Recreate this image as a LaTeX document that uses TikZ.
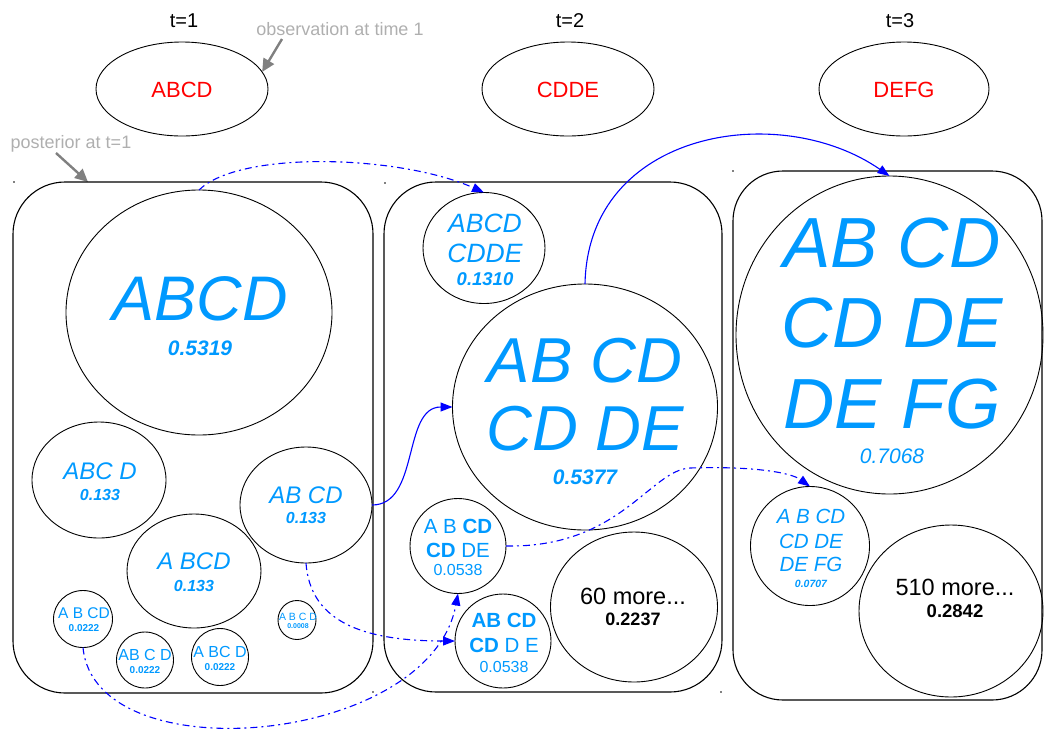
\documentclass[tikz,border=0pt]{standalone}
\usepackage{fontspec}
\setmainfont{Liberation Sans}
\usetikzlibrary{shapes.geometric,arrows.meta}
\definecolor{txtblue}{RGB}{0,153,255}
\definecolor{linkblue}{RGB}{0,0,255}
\definecolor{obsred}{RGB}{255,0,0}
\definecolor{notegray}{RGB}{175,175,175}
\definecolor{arrowgray}{RGB}{128,128,128}
\newcommand\fz[1]{\fontsize{#1pt}{#1pt}\selectfont}
\begin{document}
\begin{tikzpicture}[x=1pt,y=-1pt,
  bub/.style={draw=black, line width=0.9pt, ellipse, inner sep=0pt, outer sep=0pt},
  pbox/.style={draw=black, line width=1.1pt, rectangle, rounded corners=52pt, inner sep=0pt, outer sep=0pt},
  lbl/.style={anchor=base, inner sep=0pt, outer sep=0pt, text=txtblue},
  blk/.style={anchor=base, inner sep=0pt, outer sep=0pt, text=black},
  note/.style={anchor=base, inner sep=0pt, text=notegray, font=\fz{18}},
  grayarrow/.style={draw=arrowgray, line width=2.4pt, -{Triangle[length=13pt,width=12pt]}},
  linksolid/.style={draw=linkblue, line width=1.1pt, -{Triangle[length=12pt,width=9pt]}},
  linkdash/.style={linksolid, dash pattern=on 7pt off 4pt on 2pt off 4pt}
]
\useasboundingbox (0,0) rectangle (1044,729);

% time labels and observations
\node[blk, font=\fz{20}] (tl1) at (184,27) {t=1};
\node[blk, font=\fz{20}] (tl2) at (570,27) {t=2};
\node[blk, font=\fz{20}] (tl3) at (900,27) {t=3};
\node[bub, minimum width=172pt, minimum height=94pt] (e1) at (182,89) {};
\node[bub, minimum width=172pt, minimum height=94pt] (e2) at (568,89) {};
\node[bub, minimum width=170pt, minimum height=94pt] (e3) at (904,89) {};
\node[anchor=base, inner sep=0pt, text=obsred, font=\fz{22}] (o1) at (182,97) {ABCD};
\node[anchor=base, inner sep=0pt, text=obsred, font=\fz{22}] (o2) at (568,97) {CDDE};
\node[anchor=base, inner sep=0pt, text=obsred, font=\fz{22}] (o3) at (904,97) {DEFG};

% notes
\node[note] (nobs) at (340,35) {observation at time 1};
\node[note] (npost) at (71,148) {posterior at t=1};
\coordinate (nobsA) at (282,39);
\coordinate (npostA) at (56,153);
\coordinate (npostB) at (88,182);
\draw[grayarrow] (nobsA) -- (e1.12);
\draw[grayarrow] (npostA) -- (npostB);

% boxes
\node[pbox, minimum width=360pt, minimum height=511pt] (box1) at (193,437.5) {};
\node[pbox, minimum width=338pt, minimum height=510pt] (box2) at (553,437) {};
\node[pbox, minimum width=309pt, minimum height=529pt, rounded corners=50pt] (box3) at (887.5,435.5) {};

% tiny corner dots
\fill (14,182) circle (0.8pt);
\fill (373,692) circle (0.8pt);
\fill (385,183) circle (0.8pt);
\fill (721,692) circle (0.8pt);
\fill (733,171) circle (0.8pt);

% box 1 bubbles
\node[bub, minimum width=266pt, minimum height=245pt] (c1) at (199,312.5) {};
\node[bub, minimum width=134pt, minimum height=116pt] (c2) at (99,480) {};
\node[bub, minimum width=132pt, minimum height=116pt] (c3) at (306,505) {};
\node[bub, minimum width=134pt, minimum height=114pt] (c4) at (194,571) {};
\node[bub, minimum width=59pt, minimum height=57pt] (c5) at (83,619) {};
\node[bub, minimum width=57pt, minimum height=56pt] (c6) at (145,660) {};
\node[bub, minimum width=57pt, minimum height=57pt] (c7) at (220,657) {};
\node[bub, minimum width=38pt, minimum height=39pt] (c8) at (297,620) {};

\node[lbl, font=\fz{63}\itshape] (c1a) at (200,320) {ABCD};
\node[lbl, font=\fz{21}\bfseries\itshape] (c1b) at (200,355) {0.5319};
\node[lbl, font=\fz{24}\itshape] (c2a) at (100,479) {ABC D};
\node[lbl, font=\fz{16}\bfseries\itshape] (c2b) at (100,500) {0.133};
\node[lbl, font=\fz{24}\itshape] (c3a) at (306,503) {AB CD};
\node[lbl, font=\fz{16}\bfseries\itshape] (c3b) at (306,523) {0.133};
\node[lbl, font=\fz{24}\itshape] (c4a) at (194,569) {A BCD};
\node[lbl, font=\fz{16}\bfseries\itshape] (c4b) at (194,591) {0.133};
\node[lbl, font=\fz{15.5}] (c5a) at (84,618) {A B CD};
\node[lbl, font=\fz{10}\bfseries] (c5b) at (84,631) {0.0222};
\node[lbl, font=\fz{16}] (c6a) at (145,660) {AB C D};
\node[lbl, font=\fz{10}\bfseries] (c6b) at (145,673) {0.0222};
\node[lbl, font=\fz{16}] (c7a) at (220,657) {A BC D};
\node[lbl, font=\fz{10}\bfseries] (c7b) at (220,670) {0.0222};
\node[lbl, font=\fz{10.5}] (c8a) at (298,620) {A B C D};
\node[lbl, font=\fz{7}\bfseries] (c8b) at (298,628) {0.0008};

% box 2 bubbles
\node[bub, minimum width=122pt, minimum height=111pt] (d1) at (484,248) {};
\node[bub, minimum width=265pt, minimum height=246pt] (d2) at (585,407) {};
\node[bub, minimum width=96pt, minimum height=95pt] (d3) at (458,546) {};
\node[bub, minimum width=96pt, minimum height=94pt] (d4) at (503,641) {};
\node[bub, minimum width=167pt, minimum height=150pt] (d5) at (634,607) {};

\node[lbl, font=\fz{26.5}\itshape] (d1a) at (485,232) {ABCD};
\node[lbl, font=\fz{26.5}\itshape] (d1b) at (485,262) {CDDE};
\node[lbl, font=\fz{18.5}\bfseries\itshape] (d1c) at (485,285) {0.1310};
\node[lbl, font=\fz{63.5}\itshape] (d2a) at (585,382) {AB CD};
\node[lbl, font=\fz{63.5}\itshape] (d2b) at (585,450) {CD DE};
\node[lbl, font=\fz{21}\bfseries\itshape] (d2c) at (585,484) {0.5377};
\node[lbl, font=\fz{20.5}] (d3a) at (458,533) {A B \textbf{CD}};
\node[lbl, font=\fz{20.5}] (d3b) at (458,557) {\textbf{CD} DE};
\node[lbl, font=\fz{16}] (d3c) at (458,575) {0.0538};
\node[lbl, font=\fz{20.5}] (d4a) at (504,627) {\textbf{AB CD}};
\node[lbl, font=\fz{20.5}] (d4b) at (504,652) {\textbf{CD} D E};
\node[lbl, font=\fz{16}] (d4c) at (504,672) {0.0538};
\node[blk, font=\fz{23.5}] (d5a) at (633,604) {60 more...};
\node[blk, font=\fz{18}\bfseries] (d5b) at (633,625) {0.2237};

% box 3 bubbles
\node[bub, minimum width=307pt, minimum height=318pt] (f1) at (889.5,335) {};
\node[bub, minimum width=119pt, minimum height=119pt] (f2) at (810,546) {};
\node[bub, minimum width=184pt, minimum height=172pt] (f3) at (951,611) {};

\node[lbl, font=\fz{71}\itshape] (f1a) at (892,267) {AB CD};
\node[lbl, font=\fz{71}\itshape] (f1b) at (892,347) {CD DE};
\node[lbl, font=\fz{71}\itshape] (f1c) at (892,428) {DE FG};
\node[lbl, font=\fz{21}\itshape] (f1d) at (892,463) {0.7068};
\node[lbl, font=\fz{20.5}\itshape] (f2a) at (811,523) {A B CD};
\node[lbl, font=\fz{20.5}\itshape] (f2b) at (811,548) {CD DE};
\node[lbl, font=\fz{20.5}\itshape] (f2c) at (811,571) {DE FG};
\node[lbl, font=\fz{10.5}\bfseries\itshape] (f2d) at (811,587) {0.0707};
\node[blk, font=\fz{23.5}] (f3a) at (955,595) {510 more...};
\node[blk, font=\fz{18.5}\bfseries] (f3b) at (955,617) {0.2842};

% connectors
\draw[linkdash] (c1.north) .. controls (240,150) and (400,155) .. (d1.north);
\draw[linksolid] (c3.east) .. controls (420,505) and (402,407) .. (d2.west);
\draw[linksolid] (d2.north) .. controls (588,130) and (780,100) .. (f1.north);
\draw[linkdash] (c3.south) .. controls (310,620) and (360,641) .. (d4.west);
\draw[linkdash] (c5.south) .. controls (95,775) and (430,745) .. (d3.south);
\coordinate (m6) at (690,468);
\draw[linkdash] (d3.east) .. controls (620,548) and (650,470) .. (m6) .. controls (750,466) and (790,472) .. (f2.north);
\end{tikzpicture}
\end{document}
